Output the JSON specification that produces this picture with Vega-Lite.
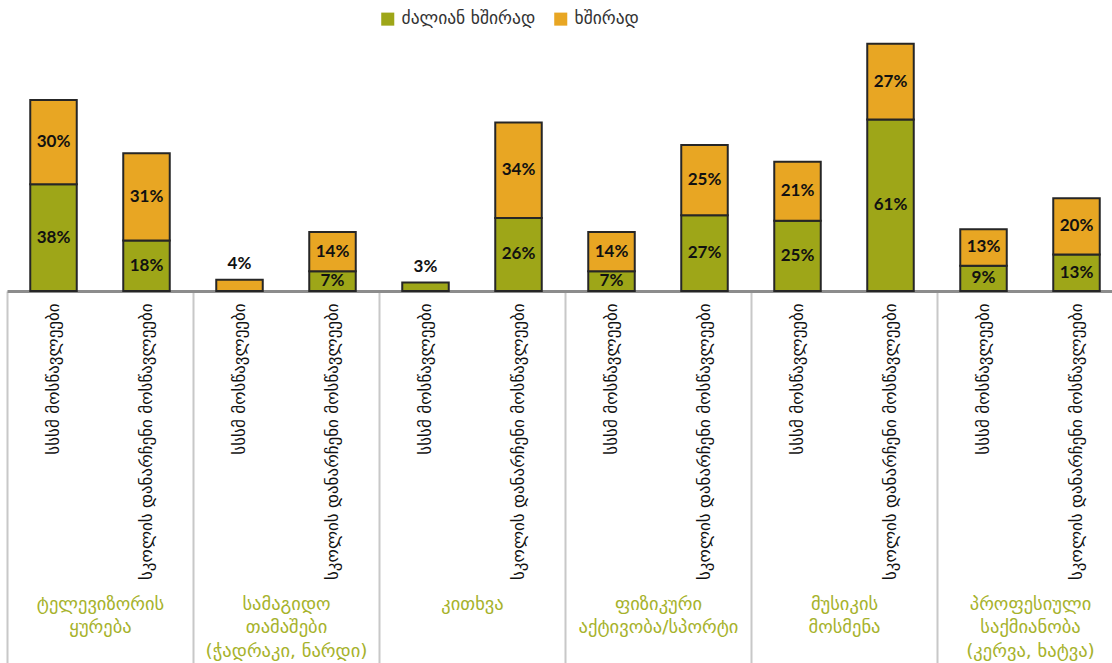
{
  "$schema": "https://vega.github.io/schema/vega-lite/v6.json",
  "autosize": {"type": "none"},
  "width": 1105,
  "height": 281,
  "padding": {"left": 7, "top": 10, "right": 0, "bottom": 372},
  "background": "white",
  "config": {"view": {"stroke": null}, "font": "DejaVu Sans"},
  "data": {
    "values": [
      {"group": "ტელევიზორის\nყურება", "key": "ტელევიზორის\nყურება|სსსმ მოსწავლეები", "series": "ძალიან ხშირად", "value": 38, "label": "38%"},
      {"group": "ტელევიზორის\nყურება", "key": "ტელევიზორის\nყურება|სსსმ მოსწავლეები", "series": "ხშირად", "value": 30, "label": "30%"},
      {"group": "ტელევიზორის\nყურება", "key": "ტელევიზორის\nყურება|სკოლის დანარჩენი მოსწავლეები", "series": "ძალიან ხშირად", "value": 18, "label": "18%"},
      {"group": "ტელევიზორის\nყურება", "key": "ტელევიზორის\nყურება|სკოლის დანარჩენი მოსწავლეები", "series": "ხშირად", "value": 31, "label": "31%"},
      {"group": "სამაგიდო\nთამაშები\n(ჭადრაკი, ნარდი)", "key": "სამაგიდო\nთამაშები\n(ჭადრაკი, ნარდი)|სსსმ მოსწავლეები", "series": "ხშირად", "value": 4, "label": "4%"},
      {"group": "სამაგიდო\nთამაშები\n(ჭადრაკი, ნარდი)", "key": "სამაგიდო\nთამაშები\n(ჭადრაკი, ნარდი)|სკოლის დანარჩენი მოსწავლეები", "series": "ძალიან ხშირად", "value": 7, "label": "7%"},
      {"group": "სამაგიდო\nთამაშები\n(ჭადრაკი, ნარდი)", "key": "სამაგიდო\nთამაშები\n(ჭადრაკი, ნარდი)|სკოლის დანარჩენი მოსწავლეები", "series": "ხშირად", "value": 14, "label": "14%"},
      {"group": "კითხვა", "key": "კითხვა|სსსმ მოსწავლეები", "series": "ძალიან ხშირად", "value": 3, "label": "3%"},
      {"group": "კითხვა", "key": "კითხვა|სკოლის დანარჩენი მოსწავლეები", "series": "ძალიან ხშირად", "value": 26, "label": "26%"},
      {"group": "კითხვა", "key": "კითხვა|სკოლის დანარჩენი მოსწავლეები", "series": "ხშირად", "value": 34, "label": "34%"},
      {"group": "ფიზიკური\nაქტივობა/სპორტი", "key": "ფიზიკური\nაქტივობა/სპორტი|სსსმ მოსწავლეები", "series": "ძალიან ხშირად", "value": 7, "label": "7%"},
      {"group": "ფიზიკური\nაქტივობა/სპორტი", "key": "ფიზიკური\nაქტივობა/სპორტი|სსსმ მოსწავლეები", "series": "ხშირად", "value": 14, "label": "14%"},
      {"group": "ფიზიკური\nაქტივობა/სპორტი", "key": "ფიზიკური\nაქტივობა/სპორტი|სკოლის დანარჩენი მოსწავლეები", "series": "ძალიან ხშირად", "value": 27, "label": "27%"},
      {"group": "ფიზიკური\nაქტივობა/სპორტი", "key": "ფიზიკური\nაქტივობა/სპორტი|სკოლის დანარჩენი მოსწავლეები", "series": "ხშირად", "value": 25, "label": "25%"},
      {"group": "მუსიკის\nმოსმენა", "key": "მუსიკის\nმოსმენა|სსსმ მოსწავლეები", "series": "ძალიან ხშირად", "value": 25, "label": "25%"},
      {"group": "მუსიკის\nმოსმენა", "key": "მუსიკის\nმოსმენა|სსსმ მოსწავლეები", "series": "ხშირად", "value": 21, "label": "21%"},
      {"group": "მუსიკის\nმოსმენა", "key": "მუსიკის\nმოსმენა|სკოლის დანარჩენი მოსწავლეები", "series": "ძალიან ხშირად", "value": 61, "label": "61%"},
      {"group": "მუსიკის\nმოსმენა", "key": "მუსიკის\nმოსმენა|სკოლის დანარჩენი მოსწავლეები", "series": "ხშირად", "value": 27, "label": "27%"},
      {"group": "პროფესიული\nსაქმიანობა\n(კერვა, ხატვა)", "key": "პროფესიული\nსაქმიანობა\n(კერვა, ხატვა)|სსსმ მოსწავლეები", "series": "ძალიან ხშირად", "value": 9, "label": "9%"},
      {"group": "პროფესიული\nსაქმიანობა\n(კერვა, ხატვა)", "key": "პროფესიული\nსაქმიანობა\n(კერვა, ხატვა)|სსსმ მოსწავლეები", "series": "ხშირად", "value": 13, "label": "13%"},
      {"group": "პროფესიული\nსაქმიანობა\n(კერვა, ხატვა)", "key": "პროფესიული\nსაქმიანობა\n(კერვა, ხატვა)|სკოლის დანარჩენი მოსწავლეები", "series": "ძალიან ხშირად", "value": 13, "label": "13%"},
      {"group": "პროფესიული\nსაქმიანობა\n(კერვა, ხატვა)", "key": "პროფესიული\nსაქმიანობა\n(კერვა, ხატვა)|სკოლის დანარჩენი მოსწავლეები", "series": "ხშირად", "value": 20, "label": "20%"}
    ]
  },
  "layer": [
    {
      "mark": {"type": "bar", "opacity": 0},
      "encoding": {
        "x": {
          "field": "group", "type": "nominal", "sort": null,
          "scale": {"range": [0, 1116], "paddingInner": 0, "paddingOuter": 0},
          "axis": {
            "orient": "bottom",
            "title": null, "domain": false, "tickBand": "extent", "tickSize": 372,
            "tickColor": "#c8c8c8", "tickWidth": 2,
            "labelAngle": 0, "labelAlign": "center", "labelBaseline": "top",
            "labelPadding": -69, "labelFontSize": 18.5, "labelLineHeight": 23.5,
            "labelColor": "#a6b22b", "labelLimit": 0, "labelOverlap": false,
            "labelExpr": "split(datum.label, '\\n')"
          }
        }
      }
    },
    {
      "encoding": {
        "x": {
          "field": "key", "type": "nominal", "sort": null,
          "scale": {"range": [0, 1116], "paddingInner": 0.5, "paddingOuter": 0.25},
          "axis": {
            "orient": "bottom",
            "title": null, "ticks": false, "domainColor": "#8c8c8c", "domainWidth": 3,
            "labelAngle": -90, "labelAlign": "right", "labelBaseline": "middle",
            "labelPadding": 12, "labelFontSize": 17, "labelColor": "#111111",
            "labelLimit": 0, "labelOverlap": false,
            "labelExpr": "split(datum.label, '|')[1]"
          }
        }
      },
      "layer": [
        {
          "mark": {"type": "bar", "stroke": "#262626", "strokeWidth": 2},
          "encoding": {
            "y": {"field": "value", "type": "quantitative", "stack": "zero", "scale": {"domain": [0, 100]}, "axis": null},
            "color": {
              "field": "series", "type": "nominal",
              "scale": {"domain": ["ძალიან ხშირად", "ხშირად"], "range": ["#9ea618", "#e8a623"]},
              "legend": {
                "orient": "none", "legendX": 372, "legendY": 0, "direction": "horizontal",
                "title": null, "symbolType": "square", "symbolSize": 170, "symbolStrokeWidth": 0,
                "labelFontSize": 17.5, "labelColor": "#333333", "columnPadding": 16, "padding": 0,
                "labelOffset": 5
              }
            },
            "order": {"field": "series", "sort": "ascending"}
          }
        },
        {
          "transform": [
            {"stack": "value", "groupby": ["key"], "sort": [{"field": "series", "order": "ascending"}], "as": ["v0", "v1"]},
            {"filter": "datum.value >= 5"},
            {"fold": ["v0", "v1"], "as": ["edge", "pos"]},
            {"aggregate": [{"op": "mean", "field": "pos", "as": "mid"}], "groupby": ["key", "series", "label"]}
          ],
          "mark": {"type": "text", "fontSize": 17, "fontWeight": "bold", "font": "Lato", "color": "#111111", "baseline": "middle"},
          "encoding": {
            "y": {"field": "mid", "type": "quantitative", "axis": null},
            "text": {"field": "label", "type": "nominal"}
          }
        },
        {
          "transform": [
            {"stack": "value", "groupby": ["key"], "sort": [{"field": "series", "order": "ascending"}], "as": ["v0", "v1"]},
            {"filter": "datum.value < 5"}
          ],
          "mark": {"type": "text", "fontSize": 17, "fontWeight": "bold", "font": "Lato", "color": "#111111", "baseline": "bottom", "dy": -7},
          "encoding": {
            "y": {"field": "v1", "type": "quantitative", "axis": null},
            "text": {"field": "label", "type": "nominal"}
          }
        }
      ]
    }
  ],
  "resolve": {"scale": {"x": "independent"}, "axis": {"x": "independent"}}
}
